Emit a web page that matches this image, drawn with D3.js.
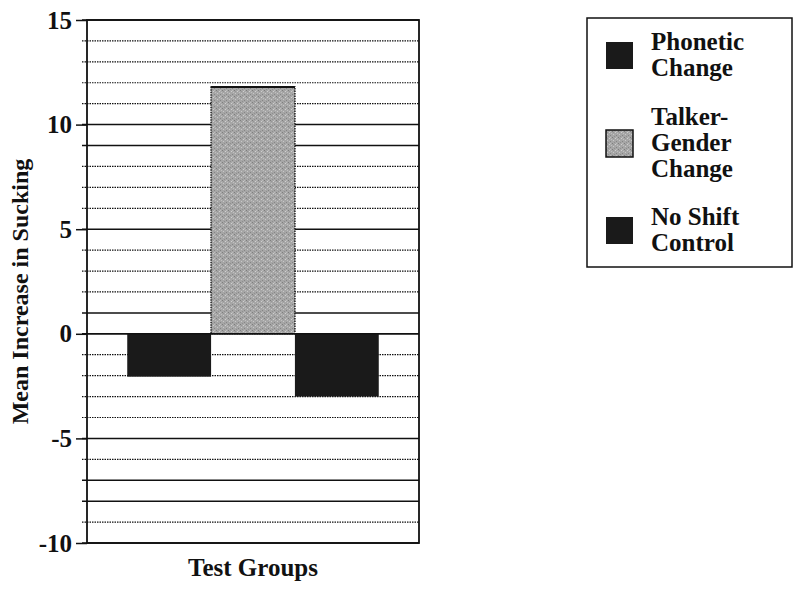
<!DOCTYPE html>
<html>
<head>
<meta charset="utf-8">
<script src="https://cdn.jsdelivr.net/npm/d3@7"></script>
<style>
  body { margin: 0; background: #fff; }
  text { font-family: "Liberation Serif", "Times New Roman", serif; font-weight: bold; fill: #111; }
</style>
</head>
<body>
<div id="chart"></div>
<script>
// data
const groups = ["Phonetic Change", "Talker-Gender Change", "No Shift Control"];
const values = [-2.05, 11.8, -3.0];
const legendLines = [["Phonetic", "Change"], ["Talker-", "Gender", "Change"], ["No Shift", "Control"]];
const yMajorTicks = [-10, -5, 0, 5, 10, 15];
const yGridValues = d3.range(-10, 16);
const solidGrid = [15, 10, 9, 5, 1, 0, -5, -7, -8, -10];

const width = 800, height = 590;
const plotL = 87, plotR = 419, plotT = 20, plotB = 543;

const svg = d3.select("#chart").append("svg")
    .attr("width", width)
    .attr("height", height);

const defs = svg.append("defs");
const pat = defs.append("pattern")
    .attr("id", "stipple")
    .attr("patternUnits", "userSpaceOnUse")
    .attr("width", 6).attr("height", 6);
pat.append("rect").attr("width", 6).attr("height", 6).attr("fill", "#a6a6a6");
[[0,0,"#7e7e7e"],[3,1,"#cfcfcf"],[1,3,"#c8c8c8"],[4,4,"#858585"],[2,5,"#8f8f8f"],[5,2,"#c0c0c0"],[1,1,"#959595"],[4,0,"#bdbdbd"]]
  .forEach(([px, py, c]) => pat.append("rect").attr("x", px).attr("y", py)
      .attr("width", 1).attr("height", 1).attr("fill", c));

const x = d3.scaleBand()
    .domain(groups)
    .range([plotL, plotR])
    .paddingInner(0)
    .paddingOuter(0.48);

const y = d3.scaleLinear()
    .domain([-10, 15])
    .range([plotB, plotT]);

const fills = ["#1a1a1a", "url(#stipple)", "#1a1a1a"];

// gridlines
svg.append("g").selectAll("line")
  .data(yGridValues)
  .join("line")
    .attr("x1", plotL - 5).attr("x2", plotR)
    .attr("y1", d => y(d)).attr("y2", d => y(d))
    .attr("stroke", "#111")
    .attr("stroke-width", d => solidGrid.includes(d) ? 1.5 : 1.2)
    .attr("stroke-dasharray", d => solidGrid.includes(d) ? null : "1.5,1");

// bars
svg.append("g").selectAll("rect")
  .data(values)
  .join("rect")
    .attr("x", (d, i) => x(groups[i]))
    .attr("width", x.bandwidth())
    .attr("y", d => y(Math.max(0, d)))
    .attr("height", d => Math.abs(y(d) - y(0)))
    .attr("fill", (d, i) => fills[i])
    .attr("stroke", (d, i) => i === 1 ? "#222" : "none")
    .attr("stroke-width", 1.5)
    .attr("stroke-dasharray", "1.5,1");

// solid top of the gray bar
svg.append("line")
    .attr("x1", x(groups[1])).attr("x2", x(groups[1]) + x.bandwidth())
    .attr("y1", y(values[1])).attr("y2", y(values[1]))
    .attr("stroke", "#111").attr("stroke-width", 2);

// zero line on top of bars
svg.append("line")
    .attr("x1", plotL).attr("x2", plotR)
    .attr("y1", y(0)).attr("y2", y(0))
    .attr("stroke", "#111").attr("stroke-width", 1.5);

// frame
svg.append("rect")
    .attr("x", plotL).attr("y", plotT)
    .attr("width", plotR - plotL).attr("height", plotB - plotT)
    .attr("fill", "none").attr("stroke", "#111").attr("stroke-width", 1.8);

// y axis
const yAxis = svg.append("g")
    .attr("transform", `translate(${plotL},0)`)
    .call(d3.axisLeft(y).tickValues(yMajorTicks).tickSize(11).tickPadding(4)
        .tickFormat(d => String(d)));
yAxis.select(".domain").remove();
yAxis.selectAll(".tick line").attr("stroke", "#111").attr("stroke-width", 1.5);
yAxis.selectAll(".tick text")
    .attr("font-size", 25)
    .attr("fill", "#111");

// axis titles
svg.append("text")
    .attr("transform", `translate(28,${(plotT + plotB) / 2 + 10}) rotate(-90)`)
    .attr("text-anchor", "middle")
    .attr("font-size", 24)
    .text("Mean Increase in Sucking");

svg.append("text")
    .attr("x", (plotL + plotR) / 2)
    .attr("y", 576)
    .attr("text-anchor", "middle")
    .attr("font-size", 25)
    .text("Test Groups");

// legend
const legend = svg.append("g");
legend.append("rect")
    .attr("x", 587).attr("y", 18)
    .attr("width", 205).attr("height", 249)
    .attr("fill", "#fff").attr("stroke", "#111").attr("stroke-width", 1.5);

const itemCenters = [55, 143, 230];
const item = legend.selectAll("g.item")
  .data(legendLines)
  .join("g")
    .attr("class", "item")
    .attr("transform", (d, i) => `translate(0,${itemCenters[i]})`);

item.append("rect")
    .attr("x", 606).attr("y", -13)
    .attr("width", 27).attr("height", 27)
    .attr("fill", (d, i) => fills[i])
    .attr("stroke", "#111")
    .attr("stroke-width", (d, i) => i === 1 ? 1.5 : 0);

item.append("text")
    .attr("font-size", 25)
    .selectAll("tspan")
    .data(d => d.map((t, j) => ({t, j, n: d.length})))
    .join("tspan")
      .attr("x", 651)
      .attr("y", d => 8 + (d.j - (d.n - 1) / 2) * 26)
      .text(d => d.t);
</script>
</body>
</html>
